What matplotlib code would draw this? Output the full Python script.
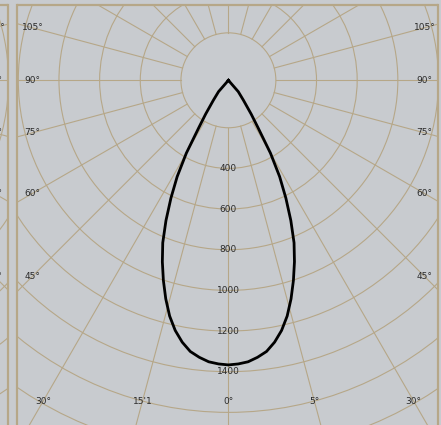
import numpy as np
from matplotlib import pyplot as plt
from matplotlib.patches import Circle, Rectangle

# Light distribution readings (half curve, symmetric about 0 deg)
curve_angles = [0, 2, 4, 6, 8, 10, 12, 14, 16, 18, 20, 22, 24, 26, 28, 30, 32, 34, 37, 41, 45]
curve_cd = [1400, 1396, 1388, 1370, 1347, 1308, 1258, 1195, 1118, 1035, 950, 862, 755,
            645, 537, 414, 275, 200, 123, 74, 0]

# Grid
ring_values = [200, 400, 600, 800, 1000, 1200, 1400, 1600, 1800, 2000]
ring_labels = ['400', '600', '800', '1000', '1200', '1400']
spoke_angles = list(range(0, 360, 15))
side_angles = [105, 90, 75, 60, 45]
side_labels = ['105°', '90°', '75°', '60°', '45°']
bottom_angles = [-30, -15, 0, 15, 30]
bottom_labels = ['30°', "15'1", '0°', '5°', '30°']

BG = '#c8cbcf'
TAN = '#b6a788'
TXT = '#2b2b2b'
K = 0.2033          # px per cd
RING_OFFSET = 6.8   # px


def ring_radius(v):
    return RING_OFFSET + K * v


def polar_xy(cx, cy, ang, r):
    a = np.radians(ang)
    return cx + r * np.sin(a), cy + r * np.cos(a)


def draw_panel(ax, cx, cy, left, right, top):
    """ Draws one polar photometric panel clipped to its frame """
    clip = Rectangle((left, top), right - left, 600, transform=ax.transData)

    # frame
    ax.plot([left, right], [top, top], color=TAN, lw=1.6, solid_capstyle='butt')
    ax.plot([left, left], [top, 440], color=TAN, lw=1.6)
    ax.plot([right, right], [top, 440], color=TAN, lw=1.6)

    # rings
    for v in ring_values:
        c = Circle((cx, cy), ring_radius(v), fill=False, ec=TAN, lw=0.8)
        ax.add_patch(c)
        c.set_clip_path(clip)

    # spokes
    r0 = ring_radius(ring_values[0])
    for a in spoke_angles:
        x, y = polar_xy(cx, cy, a, np.array([r0, 700]))
        ln, = ax.plot(x, y, color=TAN, lw=0.8)
        ln.set_clip_path(clip)

    # curve
    ang = np.array(curve_angles[::-1] + [-a for a in curve_angles[1:]])
    cd = np.array(curve_cd[::-1] + curve_cd[1:])
    x, y = polar_xy(cx, cy, ang, K * cd)
    ln, = ax.plot(x, y, color='black', lw=2.0, solid_joinstyle='round')
    ln.set_clip_path(clip)

    # ring labels
    for lab in ring_labels:
        t = ax.text(cx, cy + ring_radius(int(lab)), lab, ha='center', va='center',
                    fontsize=6.5, color=TXT)
        t.set_clip_path(clip)

    # angle labels on the sides
    dx = 196
    for a, lab in zip(side_angles, side_labels):
        yy = cy + dx / np.tan(np.radians(a))
        for sx in (-1, 1):
            t = ax.text(cx + sx * dx, yy, lab, ha='center', va='center',
                        fontsize=6.5, color=TXT)
            t.set_clip_path(clip)

    # angle labels at the bottom
    dy = 321
    for a, lab in zip(bottom_angles, bottom_labels):
        t = ax.text(cx + dy * np.tan(np.radians(a)), cy + dy, lab, ha='center',
                    va='center', fontsize=6.5, color=TXT)
        t.set_clip_path(clip)


fig = plt.figure(figsize=(4.41, 4.25), dpi=100)
fig.patch.set_facecolor(BG)
ax = fig.add_axes([0, 0, 1, 1])
ax.set_facecolor(BG)
ax.set_xlim(0, 441)
ax.set_ylim(425, 0)
ax.axis('off')

# neighbouring panel on the left (only its edge shows), then the main one
draw_panel(ax, 228.4 - 430, 80.3, 17 - 430, 7.5, 5)
draw_panel(ax, 228.4, 80.3, 17, 437.5, 5)

fig.savefig('out.png', dpi=100, facecolor=BG)
